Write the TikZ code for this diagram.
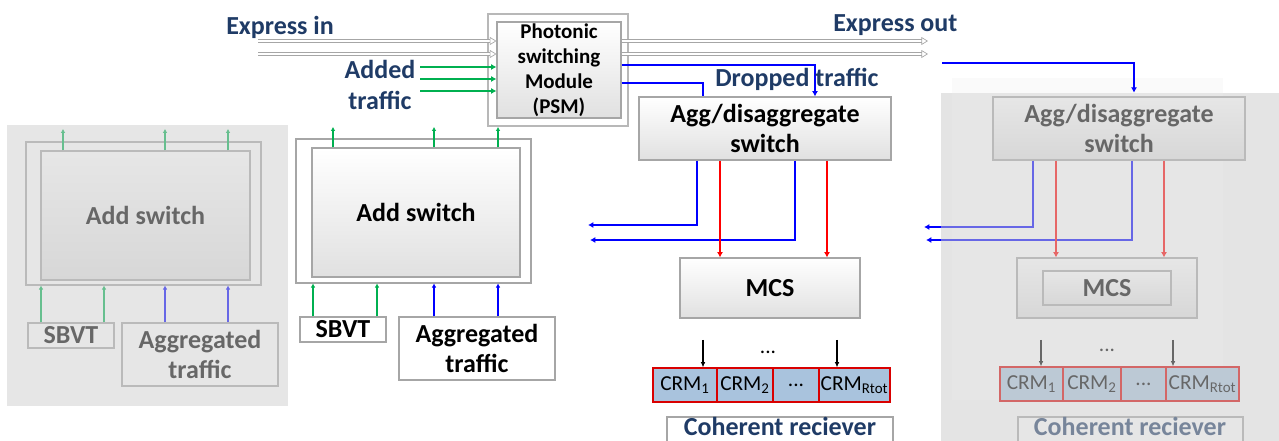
\documentclass[tikz,border=0pt]{standalone}
\usepackage{fontspec}
\setmainfont{Carlito}
\usetikzlibrary{arrows.meta}
\definecolor{navy}{HTML}{1F3B66}
\definecolor{lgreen}{HTML}{00B050}
\definecolor{lblue}{HTML}{0000FF}
\definecolor{lred}{HTML}{FF0000}
\definecolor{boxline}{HTML}{A6A6A6}
\definecolor{crmfill}{HTML}{A9C3DD}
\definecolor{veil}{HTML}{CFCFCF}
\definecolor{panelbase}{HTML}{FBFBFB}
% a rectangle node given by its corners (x1,y1) (x2,y2) in pixel units
\newcommand{\rbox}[6]{\node[#1, minimum width={(#4-#2)*0.75pt}, minimum height={(#5-#3)*0.75pt}]
  (#6) at ({(#2+#4)/2},{(#3+#5)/2})}
\tikzset{
  big/.style={font=\fontsize{19.5}{23}\selectfont\bfseries},
  psmfont/.style={font=\fontsize{15.75}{18.75}\selectfont\bfseries},
  crmfont/.style={font=\fontsize{16}{18}\selectfont},
  label/.style={big, text=navy, inner sep=0pt},
  box/.style={draw=boxline, line width=0.8pt, inner sep=0pt, fill=white},
  gbox/.style={draw=boxline, line width=0.8pt, inner sep=0pt, top color=white, bottom color=black!12},
  crmbox/.style={draw=lred!85!black, line width=0.8pt, inner sep=0pt, fill=crmfill, crmfont},
  tipb/.style={-{Latex[length=4pt,width=4.5pt]}},
  bl/.style={draw=lblue, line width=1.8pt},
  rl/.style={draw=lred, line width=1.6pt, tipb},
  gl/.style={draw=lgreen, line width=1.7pt, tipb},
  sg/.style={draw=lgreen, line width=1.4pt, -{Latex[length=3pt,width=3.5pt]}},
  sb/.style={draw=lblue, line width=1.4pt, -{Latex[length=3pt,width=3.5pt]}},
  kl/.style={draw=black, line width=1pt, -{Latex[length=4pt,width=3.5pt]}},
  expr/.style={draw=gray!70, line width=0.5pt, double=white, double distance=1.5pt,
    -{Triangle[open, length=5pt, width=6pt]}},
}
\begin{document}
\begin{tikzpicture}[x=0.75pt, y=-0.75pt]
\useasboundingbox (0,0) rectangle (1279,441);

% ---------------- left panel: faded copy of the add side ----------------
\rbox{fill=white, inner sep=0pt}{7}{125}{288}{406}{lpanel} {};
\rbox{box}{26}{142}{261}{285}{ladd} {};
\rbox{gbox, big}{41}{151}{250}{280}{laddin} {Add switch};
\rbox{box, big}{28}{323}{114}{348}{lsbvt} {SBVT};
\rbox{box, big, align=center}{122}{323}{278}{386}{lagg} {Aggregated\\traffic};
\coordinate (lt1) at (63,129);
\coordinate (lt2) at (165,129);
\coordinate (lt3) at (228,129);
\draw[sg] (laddin.north -| lt1) -- (lt1);
\draw[sg] (laddin.north -| lt2) -- (lt2);
\draw[sg] (laddin.north -| lt3) -- (lt3);
\draw[sg] (lsbvt.north -| 41,0) -- (ladd.south -| 41,0);
\draw[sg] (lsbvt.north -| 104,0) -- (ladd.south -| 104,0);
\draw[sb] (lagg.north -| 165,0) -- (ladd.south -| 165,0);
\draw[sb] (lagg.north -| 228,0) -- (ladd.south -| 228,0);
\fill[veil, opacity=0.5] (lpanel.south west) rectangle (lpanel.north east);

% ---------------- right panel: faded copy of the drop side ----------------
\fill[black!2] (952,78) rectangle (1223,93);
\rbox{fill=panelbase, inner sep=0pt}{941}{93}{1279}{441}{rpanel} {};
\fill[white] (952,93) rectangle (1223,400);
\rbox{gbox, big, align=center}{993}{97}{1245}{160}{ragg} {Agg/disaggregate\\switch};
\rbox{gbox}{1017}{258}{1197}{318}{rmcs} {};
\rbox{gbox, big}{1043}{271}{1171}{305}{rmcsin} {MCS};
\rbox{crmbox}{1000}{367}{1063}{401}{rcrm1} {CRM\textsubscript{1}};
\rbox{crmbox}{1063}{367}{1121}{401}{rcrm2} {CRM\textsubscript{2}};
\rbox{crmbox}{1121}{367}{1166}{401}{rcrm3} {...};
\rbox{crmbox}{1166}{367}{1239}{401}{rcrm4} {CRM\textsubscript{Rtot}};
\rbox{box}{1018}{417}{1243}{470}{rcoh} {};
\node[label, anchor=base] (rcohtxt) at (1130,436) {Coherent reciever};
\node[crmfont, inner sep=0pt] (rdots) at (1107,350) {...};
\coordinate (rd1) at (924,227);
\coordinate (rd2) at (926,240);
\draw[bl, tipb] (ragg.south -| 1033,0) |- (rd1);
\draw[bl, tipb] (ragg.south -| 1132,0) |- (rd2);
\draw[rl] (ragg.south -| 1056,0) -- (rmcs.north -| 1056,0);
\draw[rl] (ragg.south -| 1164,0) -- (rmcs.north -| 1164,0);
\coordinate (rk1) at (1041,340);
\coordinate (rk2) at (1173,340);
\draw[kl] (rk1) -- (rcrm1.north -| rk1);
\draw[kl] (rk2) -- (rcrm4.north -| rk2);
\fill[veil, opacity=0.5] (rpanel.south west) rectangle (rpanel.north east);
\coordinate (rin) at (942,63);
\draw[bl, tipb] (rin) -| (rpanel.north -| 1134,0);

% ---------------- photonic switching module ----------------
\rbox{box, draw=boxline!80}{488}{14}{628}{126}{psmout} {};
\rbox{gbox, psmfont, align=center}{497}{22}{621}{118}{psm}
  {Photonic\\switching\\Module\\(PSM)};

% express traffic
\coordinate (ein1) at (258,41);
\coordinate (ein2) at (258,54);
\coordinate (eout1) at (928,41);
\coordinate (eout2) at (928,54);
\draw[expr] (ein1) -- (psm.west |- ein1);
\draw[expr] (ein2) -- (psm.west |- ein2);
\draw[expr] (psm.east |- eout1) -- (eout1);
\draw[expr] (psm.east |- eout2) -- (eout2);
\node[label, anchor=base west] (expin) at (226,35) {Express in};
\node[label, anchor=base west] (expout) at (833,32) {Express out};

% added traffic
\coordinate (a1) at (420,67);
\coordinate (a2) at (420,79);
\coordinate (a3) at (420,91);
\draw[gl] (a1) -- (psm.west |- a1);
\draw[gl] (a2) -- (psm.west |- a2);
\draw[gl] (a3) -- (psm.west |- a3);
\node[label, anchor=base] (added1) at (380,79) {Added};
\node[label, anchor=base] (added2) at (380,110) {traffic};

% ---------------- add switch ----------------
\rbox{box}{296}{139}{531}{283}{add} {};
\rbox{gbox, big}{312}{148}{520}{277}{addin} {Add switch};
\rbox{box, big}{300}{317}{386}{342}{sbvt} {SBVT};
\rbox{box, big, align=center}{399}{317}{555}{380}{aggtr} {Aggregated\\traffic};
\coordinate (t1) at (333,127);
\coordinate (t2) at (434,127);
\coordinate (t3) at (498,127);
\draw[sg] (addin.north -| t1) -- (t1);
\draw[sg] (addin.north -| t2) -- (t2);
\draw[sg] (addin.north -| t3) -- (t3);
\draw[sg] (sbvt.north -| 313,0) -- (add.south -| 313,0);
\draw[sg] (sbvt.north -| 377,0) -- (add.south -| 377,0);
\draw[sb] (aggtr.north -| 434,0) -- (add.south -| 434,0);
\draw[sb] (aggtr.north -| 498,0) -- (add.south -| 498,0);

% ---------------- drop side ----------------
\rbox{gbox, big, align=center}{639}{97}{891}{160}{agg} {Agg/disaggregate\\switch};
\draw[bl, tipb] (psm.east |- 0,65) -| (agg.north -| 815,0);
\draw[bl] (psm.east |- 0,83) -| (agg.north -| 703,0);
\node[label, anchor=base west] (drop) at (715,87) {Dropped traffic};

\rbox{gbox, big}{680}{258}{860}{318}{mcs} {MCS};
\coordinate (d1) at (588,225);
\coordinate (d2) at (590,240);
\draw[bl, tipb] (agg.south -| 697,0) |- (d1);
\draw[bl, tipb] (agg.south -| 795,0) |- (d2);
\draw[rl] (agg.south -| 720,0) -- (mcs.north -| 720,0);
\draw[rl] (agg.south -| 827,0) -- (mcs.north -| 827,0);

\rbox{crmbox}{653}{368}{717}{402}{crm1} {CRM\textsubscript{1}};
\rbox{crmbox}{717}{368}{773}{402}{crm2} {CRM\textsubscript{2}};
\rbox{crmbox}{773}{368}{819}{402}{crm3} {...};
\rbox{crmbox}{819}{368}{890}{402}{crm4} {CRM\textsubscript{Rtot}};
\node[crmfont, inner sep=0pt] (dots) at (768,352) {...};
\coordinate (k1) at (703,340);
\coordinate (k2) at (837,340);
\draw[kl] (k1) -- (crm1.north -| k1);
\draw[kl] (k2) -- (crm4.north -| k2);

\rbox{box}{667}{417}{893}{470}{coh} {};
\node[label, anchor=base] (cohtxt) at (780,436) {Coherent reciever};
\end{tikzpicture}
\end{document}
